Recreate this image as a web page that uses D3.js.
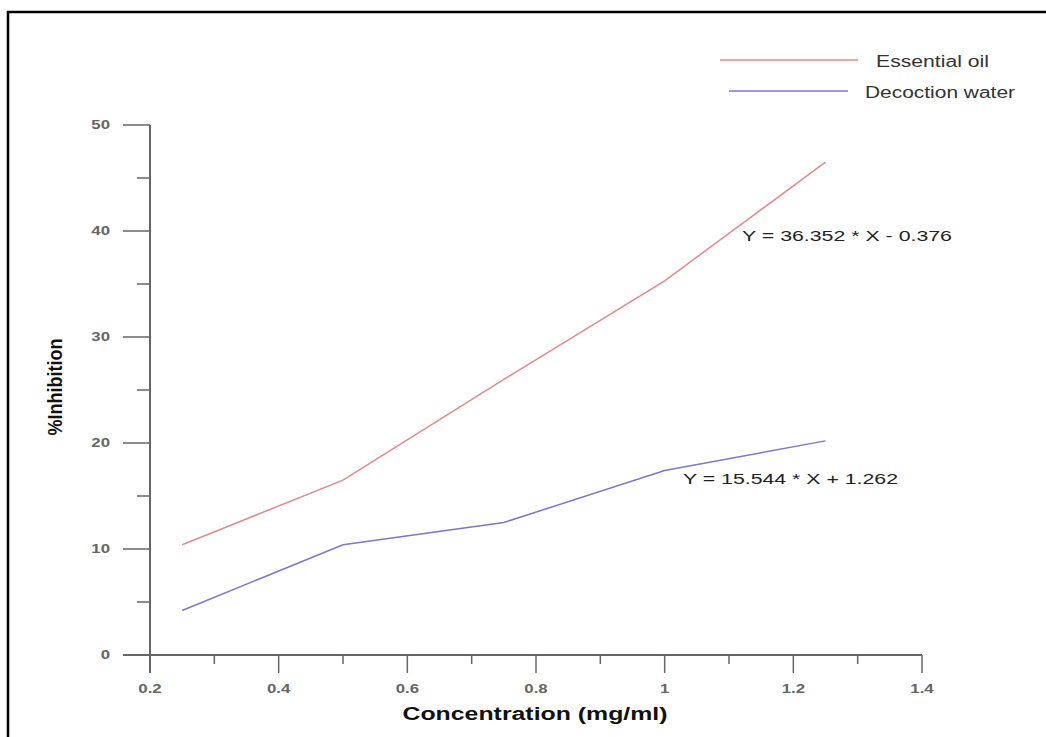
<!DOCTYPE html>
<html>
<head>
<meta charset="utf-8">
<script src="https://cdn.jsdelivr.net/npm/d3@7/dist/d3.min.js"></script>
<style>
  html, body { margin: 0; padding: 0; background: #fff; }
  svg { display: block; }
  .tick-label { font-family: "Liberation Sans", Arial, sans-serif; font-size: 12px; font-weight: bold; fill: #666; }
</style>
</head>
<body>
<svg id="chart" width="1046" height="737"></svg>
<script>
// concentration (mg/ml) vs % inhibition
const concentration = [0.25, 0.5, 0.75, 1.0, 1.25];
const essentialOil = [10.4, 16.5, 26.0, 35.3, 46.5];
const decoctionWater = [4.2, 10.4, 12.5, 17.4, 20.2];

const seriesNames = ["Essential oil", "Decoction water"];
const seriesColors = ["#e08a8f", "#7a78c8"];
const equations = ["Y = 36.352 * X - 0.376", "Y = 15.544 * X + 1.262"];

const xTicks = [0.2, 0.4, 0.6, 0.8, 1, 1.2, 1.4];
const yTicks = [0, 10, 20, 30, 40, 50];

const svg = d3.select("#chart");

// the original export is stretched sideways, so widen text to match
function widen(sel, factor) {
  sel.each(function () {
    const w = this.getComputedTextLength();
    d3.select(this).attr("textLength", w * factor).attr("lengthAdjust", "spacingAndGlyphs");
  });
}
function fitTo(sel, width) {
  sel.attr("textLength", width).attr("lengthAdjust", "spacingAndGlyphs");
}

// frame (top + left only, like the cropped original)
svg.append("path")
  .attr("d", "M8,737 V12 H1046")
  .attr("fill", "none")
  .attr("stroke", "#000")
  .attr("stroke-width", 2.5);

const x = d3.scaleLinear().domain([0.2, 1.4]).range([150, 922]);
const y = d3.scaleLinear().domain([0, 50]).range([655, 125]);

const axisColor = "#666";

// y axis
const yAxis = svg.append("g").attr("transform", `translate(${x(0.2)},0)`);
yAxis.append("line")
  .attr("y1", y(50)).attr("y2", y(0) + 18)
  .attr("stroke", axisColor).attr("stroke-width", 2);
yAxis.selectAll(".major").data(yTicks).join("line")
  .attr("x1", -27).attr("x2", 0)
  .attr("y1", d => y(d)).attr("y2", d => y(d))
  .attr("stroke", axisColor).attr("stroke-width", 1.5);
yAxis.selectAll(".minor").data(d3.range(5, 50, 10)).join("line")
  .attr("x1", -13).attr("x2", 0)
  .attr("y1", d => y(d)).attr("y2", d => y(d))
  .attr("stroke", axisColor).attr("stroke-width", 1.5);
yAxis.selectAll("text").data(yTicks).join("text")
  .attr("class", "tick-label")
  .attr("x", -40).attr("y", d => y(d))
  .attr("dy", "0.35em")
  .attr("text-anchor", "end")
  .text(d => d)
  .call(widen, 1.4);

// x axis
const xAxis = svg.append("g").attr("transform", `translate(0,${y(0)})`);
xAxis.append("line")
  .attr("x1", x(0.2) - 27).attr("x2", x(1.4))
  .attr("stroke", axisColor).attr("stroke-width", 2);
xAxis.selectAll(".major").data(xTicks).join("line")
  .attr("x1", d => x(d)).attr("x2", d => x(d))
  .attr("y1", 0).attr("y2", 18)
  .attr("stroke", axisColor).attr("stroke-width", 1.5);
xAxis.selectAll(".minor").data(d3.range(0.3, 1.4, 0.2)).join("line")
  .attr("x1", d => x(d)).attr("x2", d => x(d))
  .attr("y1", 0).attr("y2", 9)
  .attr("stroke", axisColor).attr("stroke-width", 1.5);
xAxis.selectAll("text").data(xTicks).join("text")
  .attr("class", "tick-label")
  .attr("x", d => x(d)).attr("y", 34)
  .attr("dy", "0.35em")
  .attr("text-anchor", "middle")
  .text(d => d)
  .call(widen, 1.4);

// axis titles
svg.append("text")
  .attr("x", 535).attr("y", 720)
  .attr("text-anchor", "middle")
  .attr("font-family", "Liberation Sans, Arial, sans-serif")
  .attr("font-size", 18).attr("font-weight", "bold")
  .attr("fill", "#111")
  .text("Concentration (mg/ml)")
  .call(fitTo, 265);

svg.append("text")
  .attr("transform", "translate(62,387) rotate(-90)")
  .attr("text-anchor", "middle")
  .attr("font-family", "Liberation Sans Narrow, Arial Narrow, Liberation Sans, sans-serif")
  .attr("font-size", 20).attr("font-weight", "bold")
  .attr("fill", "#111")
  .text("%Inhibition")
  .call(fitTo, 97);

// lines
const line = d3.line().x(d => x(d[0])).y(d => y(d[1]));
[essentialOil, decoctionWater].forEach((vals, i) => {
  svg.append("path")
    .datum(concentration.map((c, j) => [c, vals[j]]))
    .attr("d", line)
    .attr("fill", "none")
    .attr("stroke", seriesColors[i])
    .attr("stroke-width", 1.5);
});

// regression equations
const eqPos = [[742, 236, 210], [683, 479, 215]];
equations.forEach((t, i) => {
  svg.append("text")
    .attr("x", eqPos[i][0]).attr("y", eqPos[i][1])
    .attr("dy", "0.35em")
    .attr("font-family", "Liberation Sans, Arial, sans-serif")
    .attr("font-size", 15)
    .attr("fill", "#222")
    .text(t)
    .call(fitTo, eqPos[i][2]);
});

// legend
const legend = [[720, 858, 60, 876, 113], [729, 848, 91, 865, 150]];
seriesNames.forEach((name, i) => {
  const [x1, x2, ly, tx, tw] = legend[i];
  svg.append("line")
    .attr("x1", x1).attr("x2", x2).attr("y1", ly).attr("y2", ly)
    .attr("stroke", seriesColors[i]).attr("stroke-width", 1.5);
  svg.append("text")
    .attr("x", tx).attr("y", ly + 1)
    .attr("dy", "0.35em")
    .attr("font-family", "Liberation Sans, Arial, sans-serif")
    .attr("font-size", 16)
    .attr("fill", "#333")
    .text(name)
    .call(fitTo, tw);
});
</script>
</body>
</html>
